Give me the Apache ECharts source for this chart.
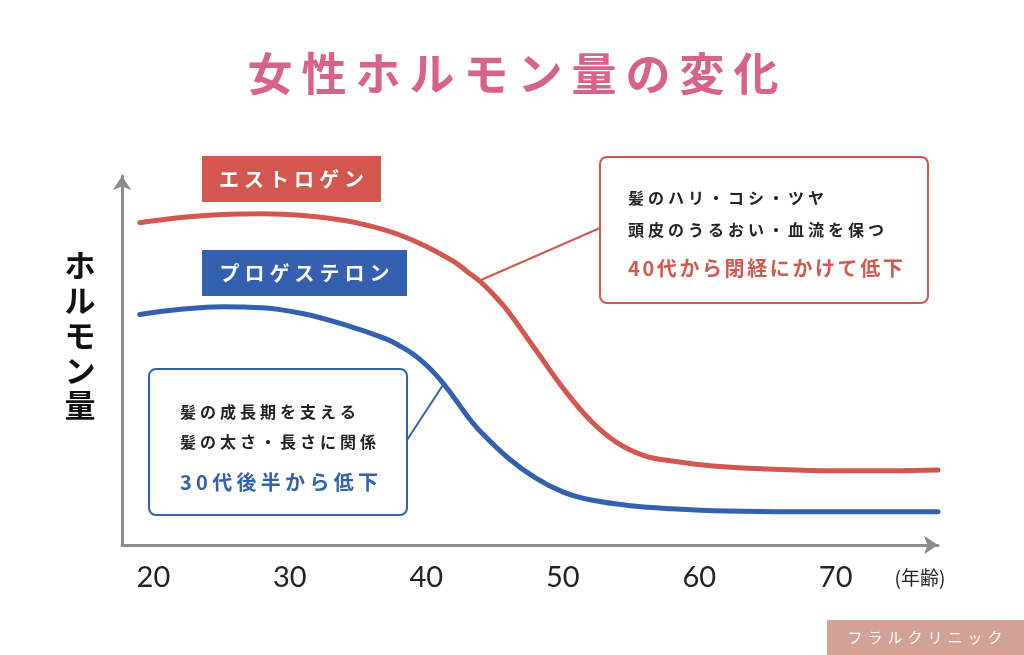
<!DOCTYPE html>
<html>
<head>
<meta charset="utf-8">
<script src="https://cdn.jsdelivr.net/npm/echarts@6/dist/echarts.min.js"></script>
<style>
  html, body { margin: 0; padding: 0; background: #fff; }
  #chart { width: 1024px; height: 655px; }
</style>
</head>
<body>
<div id="chart"></div>
<script>
// 年齢 (x) とホルモン量 (相対値) — 画像から読み取り
const estrogenAge   = [19, 22, 25, 28, 31, 34, 36, 38, 40, 42, 43, 44, 45, 46, 48, 50, 52, 54, 56, 58, 61, 65, 70, 74, 77.5];
const estrogenLevel = [85.6, 87.0, 87.8, 88.0, 87.5, 86.2, 84.6, 82.4, 79.3, 75.3, 72.6, 69.8, 66.2, 62.0, 51.9, 41.8, 33.2, 27.1, 23.7, 22.3, 21.0, 20.2, 19.7, 19.7, 19.9];
const progesteroneAge   = [19, 22, 25, 28, 31, 34, 37, 38, 39, 40, 41, 42, 43, 44, 46, 48, 50, 52, 55, 58, 62, 67, 72, 77.5];
const progesteroneLevel = [61.2, 62.6, 63.3, 63.0, 61.4, 58.5, 54.8, 53.0, 50.8, 47.8, 44.0, 39.3, 34.3, 30.0, 23.1, 17.8, 14.1, 12.0, 10.4, 9.6, 9.0, 8.8, 8.8, 8.8];
const xTicks = [20, 30, 40, 50, 60, 70];

const RED = '#d4574f';
const BLUE = '#3361b0';
const JP = '"Noto Sans CJK JP", "Noto Sans", sans-serif';

// 文字間隔つきテキスト（1文字ずつ配置）
const ctx = document.createElement('canvas').getContext('2d');
function spaced(str, x, y, size, gap, color, weight, align) {
  ctx.font = weight + ' ' + size + 'px ' + JP;
  const chars = Array.from(str);
  const widths = chars.map(c => ctx.measureText(c).width);
  const total = widths.reduce((a, b) => a + b, 0) + gap * (chars.length - 1);
  let cx = 0;
  const children = chars.map((c, i) => {
    const el = {
      type: 'text',
      x: cx, y: 0, z: 10,
      style: { text: c, fill: color, fontSize: size, fontWeight: weight, fontFamily: JP, verticalAlign: 'middle', align: 'left' }
    };
    cx += widths[i] + gap;
    return el;
  });
  return { type: 'group', x: align === 'center' ? x - total / 2 : x, y: y, z: 10, children: children };
}

const chart = echarts.init(document.getElementById('chart'));

const option = {
  backgroundColor: '#fff',
  animation: false,
  grid: { left: 122, right: 86, top: 176, bottom: 110 },
  xAxis: {
    type: 'value',
    min: 17.7,
    max: 77.5,
    splitLine: { show: false },
    axisTick: { show: false },
    axisLine: {
      show: true,
      symbol: ['none', 'arrow'],
      symbolSize: [14, 14],
      lineStyle: { color: '#8c8c8c', width: 3 }
    },
    axisLabel: {
      customValues: xTicks,
      margin: 18,
      fontSize: 29,
      color: '#222',
      fontFamily: 'Lato, "Noto Sans", sans-serif'
    }
  },
  yAxis: {
    type: 'value',
    min: 0,
    max: 98,
    splitLine: { show: false },
    axisTick: { show: false },
    axisLabel: { show: false },
    axisLine: {
      show: true,
      onZero: false,
      symbol: ['none', 'arrow'],
      symbolSize: [14, 14],
      lineStyle: { color: '#8c8c8c', width: 3 }
    }
  },
  series: [
    {
      name: 'エストロゲン',
      type: 'line',
      smooth: 0.4,
      showSymbol: false,
      lineStyle: { color: RED, width: 5, cap: 'round' },
      data: estrogenAge.map((a, i) => [a, estrogenLevel[i]])
    },
    {
      name: 'プロゲステロン',
      type: 'line',
      smooth: 0.4,
      showSymbol: false,
      lineStyle: { color: BLUE, width: 5, cap: 'round' },
      data: progesteroneAge.map((a, i) => [a, progesteroneLevel[i]])
    }
  ],
  graphic: [
    // タイトル
    spaced('女性ホルモン量の変化', 513, 74, 45, 9, '#d9628a', 'bold', 'center'),
    // 縦軸名
    {
      type: 'text', x: 80, y: 335, z: 10,
      style: { text: 'ホ\nル\nモ\nン\n量', fontSize: 31, lineHeight: 35, fontWeight: 'bold', fontFamily: JP, fill: '#111', align: 'center', verticalAlign: 'middle' }
    },
    // 凡例ラベル
    { type: 'rect', shape: { x: 202, y: 156, width: 179, height: 46 }, style: { fill: RED }, z: 5 },
    spaced('エストロゲン', 291.5, 179, 20, 5, '#fff', 'bold', 'center'),
    { type: 'rect', shape: { x: 202, y: 250, width: 205, height: 46 }, style: { fill: BLUE }, z: 5 },
    spaced('プロゲステロン', 304.5, 273, 20, 5, '#fff', 'bold', 'center'),
    // 引き出し線
    { type: 'line', shape: { x1: 481, y1: 280, x2: 600, y2: 228 }, style: { stroke: RED, lineWidth: 2 }, z: 4 },
    { type: 'line', shape: { x1: 407, y1: 440, x2: 443, y2: 385 }, style: { stroke: BLUE, lineWidth: 2 }, z: 4 },
    // 説明ボックス（エストロゲン）
    { type: 'rect', shape: { x: 600, y: 157, width: 328, height: 146, r: 7 }, style: { fill: '#fff', stroke: RED, lineWidth: 2 }, z: 5 },
    spaced('髪のハリ・コシ・ツヤ', 628, 198, 16, 4, '#222', 'bold'),
    spaced('頭皮のうるおい・血流を保つ', 628, 230, 16, 4, '#222', 'bold'),
    spaced('40代から閉経にかけて低下', 628, 268, 20, 2.6, RED, 'bold'),
    // 説明ボックス（プロゲステロン）
    { type: 'rect', shape: { x: 149, y: 369, width: 258, height: 146, r: 7 }, style: { fill: '#fff', stroke: BLUE, lineWidth: 2 }, z: 5 },
    spaced('髪の成長期を支える', 180, 412, 16, 4, '#222', 'bold'),
    spaced('髪の太さ・長さに関係', 180, 442, 16, 4, '#222', 'bold'),
    spaced('30代後半から低下', 180, 482, 20, 4.3, BLUE, 'bold'),
    // 横軸名
    {
      type: 'text', x: 920, y: 578, z: 10,
      style: { text: '(年齢)', fontSize: 19, fontFamily: JP, fill: '#222', align: 'center', verticalAlign: 'middle' }
    },
    // クレジット
    { type: 'rect', shape: { x: 827, y: 620, width: 197, height: 35 }, style: { fill: '#d3a196' }, z: 5 },
    spaced('フラルクリニック', 925, 637, 15, 5, '#fff', 'normal', 'center')
  ]
};

chart.setOption(option);
</script>
</body>
</html>
